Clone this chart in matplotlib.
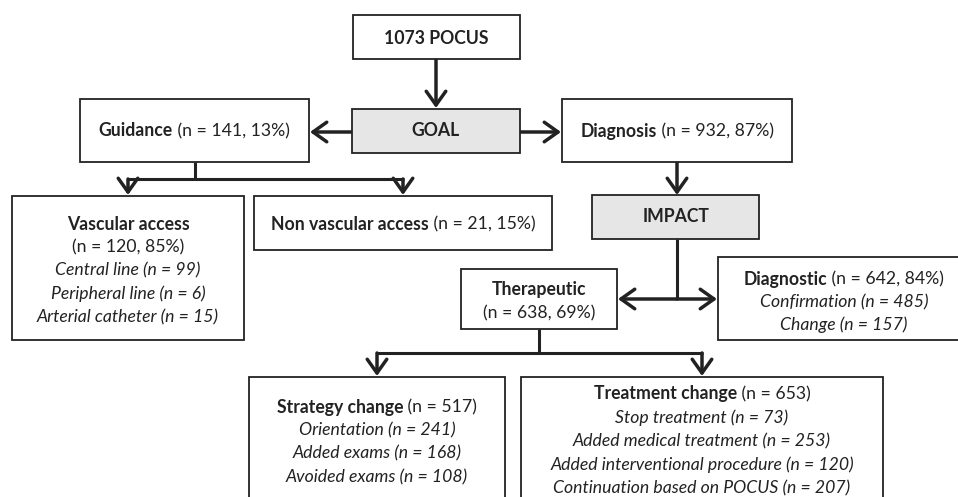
import matplotlib
matplotlib.use("Agg")
import matplotlib.pyplot as plt
from matplotlib.patches import Rectangle

# ---------------------------------------------------------------
# data (counts read from the flowchart)
# ---------------------------------------------------------------
TOTAL = 1073
GUIDANCE = (141, 13)
DIAGNOSIS = (932, 87)
VASCULAR = (120, 85)
VASC_SUB_LABELS = ["Central line", "Peripheral line", "Arterial catheter"]
VASC_SUB_N = [99, 6, 15]
NON_VASCULAR = (21, 15)
THERAPEUTIC = (638, 69)
DIAGNOSTIC = (642, 84)
DIAG_SUB_LABELS = ["Confirmation", "Change"]
DIAG_SUB_N = [485, 157]
STRATEGY_N = 517
STRAT_SUB_LABELS = ["Orientation", "Added exams", "Avoided exams"]
STRAT_SUB_N = [241, 168, 108]
TREATMENT_N = 653
TREAT_SUB_LABELS = ["Stop treatment", "Added medical treatment",
                    "Added interventional procedure", "Continuation based on POCUS"]
TREAT_SUB_N = [73, 253, 120, 207]

# ---------------------------------------------------------------
# style
# ---------------------------------------------------------------
FONT = "Lato"
FS = 12.7
INK = "#222222"
GREY = "#e6e6e6"
BOX_LW = 1.3
LINE_LW = 2.2
LINE_H = 23.5

W, H = 958, 497
fig = plt.figure(figsize=(W / 100, H / 100), dpi=100)
ax = fig.add_axes([0, 0, 1, 1])
ax.set_xlim(0, W); ax.set_ylim(H, 0); ax.axis("off")
renderer = fig.canvas.get_renderer()


def box(x0, y0, x1, y1, fill="white"):
    ax.add_patch(Rectangle((x0, y0), x1 - x0, y1 - y0, facecolor=fill,
                           edgecolor=INK, linewidth=BOX_LW, zorder=2))


def rich(xc, y, parts):
    # parts: list of (text, weight, style); centred on xc
    objs = []
    for txt, wt, st in parts:
        t = ax.text(0, y, txt, fontsize=FS, family=FONT, weight=wt, style=st,
                    color=INK, ha="left", va="center", zorder=3)
        objs.append(t)
    widths = [t.get_window_extent(renderer).width for t in objs]
    x = xc - sum(widths) / 2
    for t, w in zip(objs, widths):
        t.set_x(x); x += w


def line(pts):
    xs, ys = zip(*pts)
    ax.plot(xs, ys, color=INK, lw=LINE_LW, solid_capstyle="butt", zorder=1)


def arrow(p0, p1):
    ax.annotate("", xy=p1, xytext=p0,
                arrowprops=dict(arrowstyle="->,head_length=0.45,head_width=0.32",
                                mutation_scale=22, color=INK, lw=LINE_LW + 0.3,
                                shrinkA=0, shrinkB=0), zorder=1)


B, R, I = "bold", "normal", "italic"

# top
box(353, 15, 520, 59)
rich(436, 38, [(f"{TOTAL} POCUS", B, R)])
arrow((436, 59), (436, 108))

box(352, 109, 520, 153, GREY)
rich(436, 131, [("GOAL", B, R)])

box(80, 99, 309, 162)
rich(194, 131, [("Guidance", B, R), (f" (n = {GUIDANCE[0]}, {GUIDANCE[1]}%)", R, R)])
arrow((352, 132), (310, 132))

box(562, 99, 792, 162)
rich(677, 131, [("Diagnosis", B, R), (f" (n = {DIAGNOSIS[0]}, {DIAGNOSIS[1]}%)", R, R)])
arrow((520, 132), (561, 132))

# guidance branch
line([(195, 162), (195, 179)])
line([(127, 179), (404, 179)])
arrow((128, 179), (128, 195))
arrow((403, 179), (403, 195))

box(12, 196, 244, 340)
rich(128, 224, [("Vascular access", B, R)])
rich(128, 247, [(f"(n = {VASCULAR[0]}, {VASCULAR[1]}%)", R, R)])
for i, (lab, n) in enumerate(zip(VASC_SUB_LABELS, VASC_SUB_N)):
    rich(128, 270 + i * LINE_H, [(f"{lab} (n = {n})", R, I)])

box(254, 196, 552, 250)
rich(403, 224, [("Non vascular access", B, R),
                (f" (n = {NON_VASCULAR[0]}, {NON_VASCULAR[1]}%)", R, R)])

# diagnosis branch
arrow((677, 162), (677, 195))
box(592, 195, 759, 239, GREY)
rich(676, 217, [("IMPACT", B, R)])
line([(677, 239), (677, 299)])
arrow((677, 299), (618, 299))
arrow((677, 299), (717, 299))

box(461, 269, 617, 329)
rich(539, 290, [("Therapeutic", B, R)])
rich(539, 313, [(f"(n = {THERAPEUTIC[0]}, {THERAPEUTIC[1]}%)", R, R)])

box(718, 257, 970, 340)
rich(844, 279, [("Diagnostic", B, R), (f" (n = {DIAGNOSTIC[0]}, {DIAGNOSTIC[1]}%)", R, R)])
for i, (lab, n) in enumerate(zip(DIAG_SUB_LABELS, DIAG_SUB_N)):
    rich(844, 302 + i * 22.5, [(f"{lab} (n = {n})", R, I)])

# therapeutic branch
line([(539, 329), (539, 353)])
line([(376, 353), (703, 353)])
arrow((377, 353), (377, 376))
arrow((702, 353), (702, 376))

box(249, 377, 505, 510)
rich(377, 407, [("Strategy change", B, R), (f" (n = {STRATEGY_N})", R, R)])
for i, (lab, n) in enumerate(zip(STRAT_SUB_LABELS, STRAT_SUB_N)):
    rich(377, 430 + i * LINE_H, [(f"{lab} (n = {n})", R, I)])

box(521, 377, 883, 510)
rich(702, 394, [("Treatment change", B, R), (f" (n = {TREATMENT_N})", R, R)])
for i, (lab, n) in enumerate(zip(TREAT_SUB_LABELS, TREAT_SUB_N)):
    rich(702, 418 + i * LINE_H, [(f"{lab} (n = {n})", R, I)])

fig.savefig("out.png", dpi=100, facecolor="white")
